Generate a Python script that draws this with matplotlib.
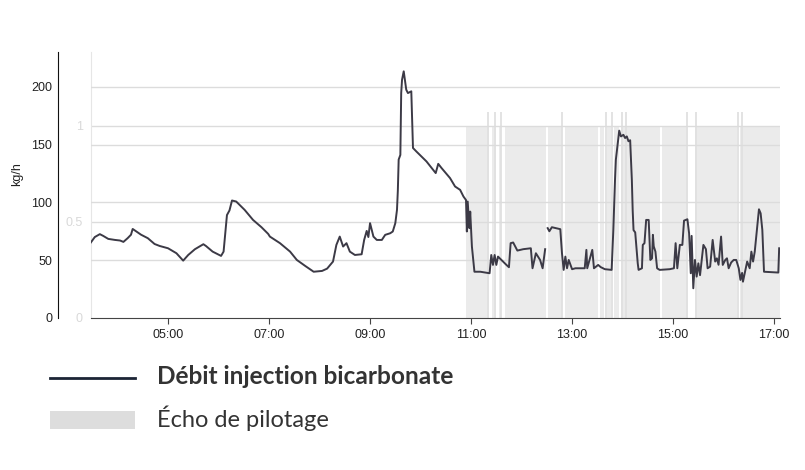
import numpy as np
import pandas as pd
import matplotlib
matplotlib.use('Agg')
import matplotlib.pyplot as plt
import matplotlib.dates as mdates
from matplotlib.lines import Line2D
from matplotlib.patches import Rectangle

''' DONNEES '''

jour = '2024-01-01 '

# debit injection bicarbonate (kg/h)
heures = ['03:28', '03:33', '03:39', '03:43', '03:49', '03:57', '04:03', '04:07', '04:12', '04:16',
          '04:18', '04:22', '04:28', '04:36', '04:44', '04:50', '05:00', '05:10', '05:18', '05:24',
          '05:32', '05:42', '05:45', '05:53', '06:03', '06:06', '06:10', '06:13', '06:16', '06:21',
          '06:31', '06:41', '06:51', '06:59', '07:01', '07:13', '07:25', '07:33', '07:43', '07:53',
          '08:03', '08:09', '08:16', '08:20', '08:24', '08:28', '08:32', '08:36', '08:42', '08:50',
          '08:53', '08:56', '08:58', '09:00', '09:04', '09:08', '09:14', '09:18', '09:24', '09:27',
          '09:30', '09:32', '09:33', '09:34', '09:36', '09:37', '09:38', '09:40', '09:43', '09:45',
          '09:49', '09:51', '09:55', '10:07', '10:18', '10:21', '10:25', '10:35', '10:41', '10:47',
          '10:51', '10:54', '10:55', '10:56', '10:58', '10:59', '11:01', '11:04', '11:11', '11:22',
          '11:24', '11:26', '11:28', '11:30', '11:32', '11:36', '11:42', '11:45', '11:47', '11:50',
          '11:55', '12:02', '12:11', '12:13', '12:17', '12:22', '12:25', '12:28', '12:29', '12:31',
          '12:33', '12:36', '12:46', '12:48', '12:50', '12:52', '12:54', '12:56', '13:00', '13:04',
          '13:15', '13:17', '13:18', '13:24', '13:26', '13:31', '13:34', '13:39', '13:47', '13:49',
          '13:51', '13:52', '13:56', '13:58', '14:01', '14:03', '14:05', '14:07', '14:09', '14:11',
          '14:12', '14:13', '14:15', '14:18', '14:19', '14:23', '14:24', '14:26', '14:28', '14:31',
          '14:33', '14:35', '14:36', '14:37', '14:39', '14:41', '14:44', '14:56', '15:01', '15:03',
          '15:05', '15:08', '15:11', '15:13', '15:17', '15:19', '15:21', '15:22', '15:24', '15:26',
          '15:28', '15:30', '15:32', '15:34', '15:36', '15:39', '15:41', '15:44', '15:47', '15:50',
          '15:52', '15:54', '15:57', '15:59', '16:02', '16:04', '16:06', '16:09', '16:12', '16:15',
          '16:18', '16:20', '16:22', '16:23', '16:26', '16:28', '16:31', '16:33', '16:35', '16:37',
          '16:39', '16:42', '16:44', '16:46', '16:48', '17:05', '17:06']
debit = [65, 70, 72.5, 71, 68.4, 67.5, 67, 65.8, 69, 72,
         77, 75, 72, 69, 64, 62.3, 60.3, 56, 49.6, 54.5,
         59.5, 63.8, 62.3, 57.4, 53.7, 57.4, 89, 93, 101.6, 100.7,
         93.5, 84.8, 78.5, 72.7, 70.4, 64.7, 57.4, 50.2, 45, 40,
         40.7, 42.7, 48.8, 63.2, 70.4, 61.8, 64.7, 57.4, 54.5, 55.1,
         67.5, 75.3, 70, 82, 70.4, 67.5, 67.5, 71.9, 73.3, 74.8,
         82, 93.5, 110, 137, 141, 194.5, 206, 213.3, 197.4, 194.5,
         196, 147, 144, 135.4, 125.3, 133.3, 129.6, 121, 113.7, 110.8,
         105, 102, 74.8, 100.7, 77.7, 92, 61.8, 40, 40, 38.7,
         54.5, 45.9, 54.5, 45.9, 53.1, 50.2, 45.9, 43.9, 64.7, 65.3,
         58.3, 59.5, 60.3, 43, 56, 50.2, 43, 59.5, np.nan, 77.7,
         75, 78.5, 76.8, 56, 41.6, 53.1, 43, 50.2, 42.2, 43,
         43, 58.9, 43, 58.9, 43, 45.9, 44, 42.2, 41.6, 76,
         119.5, 136.8, 162, 157, 158.4, 155.6, 157, 152.8, 153.7, 119.5,
         93, 76, 74, 47.3, 41.6, 43, 63.2, 64.7, 84.8, 84.8,
         50.2, 51.6, 71.9, 62, 57.4, 43, 41.6, 42.2, 43, 64.7,
         43, 63.2, 63.2, 84.2, 85.4, 73.3, 38.7, 71, 25.7, 50.2,
         35.8, 47.3, 37, 50.2, 63.2, 59.5, 43, 44.4, 67.5, 48.8,
         51.6, 46, 70.4, 45.9, 50.2, 51.6, 43, 48, 50.2, 50.2,
         43, 32.9, 39, 31.4, 42, 48.8, 43, 57.4, 48.8, 57.4,
         71.9, 94, 90.5, 76.2, 40, 39.3, 60.3]

# echo de pilotage (0/1), changements d'etat
pilot_heures = ['10:54', '11:21', '11:25', '11:30', '11:33', '11:36', '11:40', '12:29', '12:31',
                '12:48', '12:52', '13:31', '13:33', '13:38', '13:41', '13:46', '13:50', '13:56',
                '13:58', '14:44', '14:47', '15:18', '15:26', '16:16', '16:20', '17:07']
pilot_etat = [1, 0, 1, 0, 1, 0, 1, 0, 1,
              0, 1, 0, 1, 0, 1, 0, 1, 0,
              1, 0, 1, 0, 1, 0, 1, 0]
# petits traits qui depassent au dessus de la zone grise
pics = ['11:20', '11:28', '11:36', '12:48', '13:40', '13:48', '13:59', '14:04',
        '15:17', '15:27', '16:17', '16:22']

xticks = ['05:00', '07:00', '09:00', '11:00', '13:00', '15:00', '17:00']
y1_ticks = [0, 50, 100, 150, 200]
y2_ticks = [0, 0.5, 1]

t = pd.to_datetime([jour + h for h in heures])
tp = pd.to_datetime([jour + h for h in pilot_heures])
tpics = pd.to_datetime([jour + h for h in pics])

''' GRAPHIQUE '''

plt.rcParams['font.family'] = ['Liberation Sans', 'DejaVu Sans']

fig = plt.figure(figsize=(8.05, 4.70), dpi=100)
W, H = 805, 470
x0, x1, ytop, ybot = 91, 780, 52, 318
ax2 = fig.add_axes([x0 / W, 1 - ybot / H, (x1 - x0) / W, (ybot - ytop) / H])
ax = ax2.twinx()
ax.set_zorder(ax2.get_zorder() + 1)
ax.patch.set_visible(False)

gris_grille = '#dcdcdc'

# axe secondaire : echo de pilotage
ax2.fill_between(tp, 0, pilot_etat, step='post', color='#ebebeb', lw=0, zorder=1)
ax2.vlines(tpics, 0, 1.07, color='#e0e0e0', lw=1.3, zorder=1.5)
for v in y2_ticks[1:]:
    ax2.axhline(v, color=gris_grille, lw=1, zorder=2)
ax2.set_ylim(0, 1.385)
ax2.set_yticks(y2_ticks)
ax2.set_yticklabels(['0', '0.5', '1'])
ax2.tick_params(axis='y', length=0, pad=6, labelsize=9, labelcolor='#d9d9d9')
ax2.tick_params(axis='x', length=4, color='#444444', labelsize=9, labelcolor='#222222', pad=4)
for s in ['top', 'right']:
    ax2.spines[s].set_visible(False)
ax2.spines['left'].set_color('#e6e6e6')
ax2.spines['bottom'].set_color('#444444')

# axe principal : debit
for v in y1_ticks[1:]:
    ax.axhline(v, color=gris_grille, lw=1, zorder=2)
ax.plot(t, debit, color='#3c3a46', lw=1.4, zorder=3)
ax.set_ylim(0, 230)
ax.set_yticks(y1_ticks)
ax.yaxis.set_ticks_position('left')
ax.yaxis.set_label_position('left')
ax.spines['left'].set_position(('outward', 23.8))
ax.spines['left'].set_color('#111111')
for s in ['top', 'right', 'bottom']:
    ax.spines[s].set_visible(False)
ax.tick_params(axis='y', length=0, pad=4, labelsize=9, labelcolor='#222222')
ax.set_ylabel('kg/h', fontsize=9, color='#222222')
ax.yaxis.set_label_coords(-0.098, 0.54)

ax2.set_xlim(pd.Timestamp(jour + '03:28:30'), pd.Timestamp(jour + '17:07'))
ax2.set_xticks(pd.to_datetime([jour + h for h in xticks]))
ax2.xaxis.set_major_formatter(mdates.DateFormatter('%H:%M'))

# legende
yl1 = 1 - 378 / H
fig.add_artist(Line2D([50 / W, 135 / W], [yl1, yl1], transform=fig.transFigure,
                      color='#1c2535', lw=2))
fig.text(157 / W, 1 - 376 / H, 'Débit injection bicarbonate', fontsize=17.6, fontweight='bold',
         family=['Lato', 'DejaVu Sans'], color='#333333', va='center')
fig.add_artist(Rectangle((50 / W, 1 - 429 / H), 85 / W, 18 / H, transform=fig.transFigure,
                         color='#dddddd', lw=0))
fig.text(157 / W, 1 - 418 / H, 'Écho de pilotage', fontsize=17, 
         family=['Lato', 'DejaVu Sans'], color='#333333', va='center')

fig.savefig('out.png', dpi=100)
